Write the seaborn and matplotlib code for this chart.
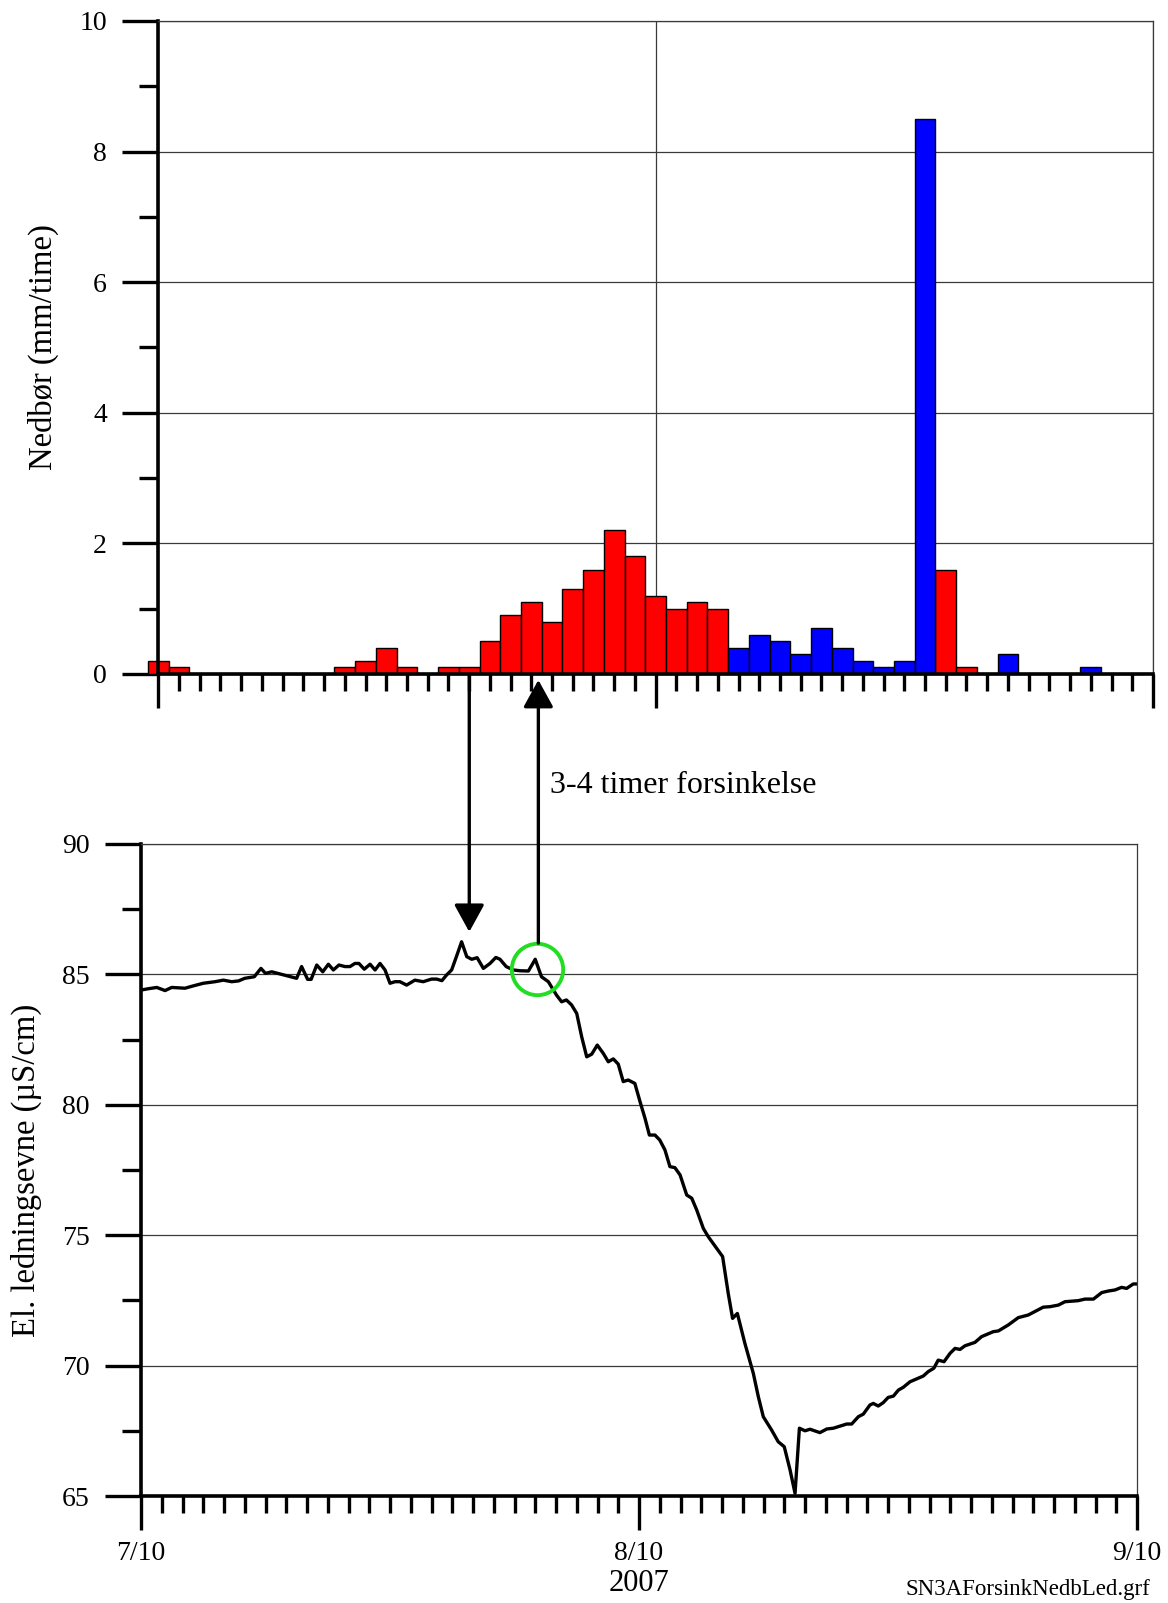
import matplotlib
matplotlib.use("Agg")
import matplotlib.pyplot as plt
import seaborn as sns
import pandas as pd
from matplotlib.ticker import MultipleLocator, FixedLocator

# ---------------- data ----------------
# Hourly precipitation (hour 0 = 7/10 00:00)
rain_hour = list(range(0, 48))
rain_mm = [0.2, 0.1, 0, 0, 0, 0, 0, 0, 0,
           0.1, 0.2, 0.4, 0.1, 0, 0.1, 0.1,
           0.5, 0.9, 1.1, 0.8, 1.3, 1.6, 2.2, 1.8, 1.2, 1.0, 1.1, 1.0,
           0.4, 0.6, 0.5, 0.3, 0.7, 0.4, 0.2, 0.1, 0.2, 8.5,
           1.6, 0.1, 0, 0.3, 0, 0, 0, 0.1, 0, 0]
rain_group = (["red"] * 28 + ["blue"] * 10 + ["red"] * 3 + ["blue"] * 7)

# Electrical conductivity (hours since 7/10 00:00, µS/cm)
cond_hour = [0.0, 0.35, 0.76, 1.16, 1.48, 2.12, 2.52, 3.0, 3.57, 3.97, 4.37, 4.7,
             5.0, 5.46, 5.78, 6.0, 6.3, 7.5, 7.74, 8.03, 8.2, 8.47, 8.76, 9.03,
             9.27, 9.54, 9.83, 10.07, 10.31, 10.5, 10.76, 11.04, 11.28, 11.52,
             11.76, 12.0, 12.24, 12.48, 12.8, 13.2, 13.6, 14.0, 14.25, 14.5,
             14.73, 14.97, 15.2, 15.45, 15.7, 15.94, 16.2, 16.5, 16.82, 17.1,
             17.3, 17.6, 17.94, 18.27, 18.67, 19.0, 19.3, 19.63, 20.03, 20.27,
             20.5, 20.75, 21.0, 21.24, 21.48, 21.72, 21.99, 22.28, 22.52, 22.76,
             23.0, 23.24, 23.48, 23.8, 24.05, 24.29, 24.5, 24.77, 25.0, 25.25,
             25.49, 25.73, 25.98, 26.3, 26.54, 26.78, 27.1, 27.34, 27.74, 28.03,
             28.3, 28.51, 28.74, 29.1, 29.51, 29.75, 29.99, 30.39, 30.71, 31.0,
             31.28, 31.52, 31.73, 32.0, 32.24, 32.72, 33.05, 33.37, 34.01, 34.25,
             34.57, 34.81, 35.13, 35.29, 35.53, 35.77, 36.01, 36.26, 36.5, 36.74,
             37.06, 37.38, 37.7, 37.94, 38.21, 38.42, 38.7, 38.99, 39.23, 39.47,
             39.71, 40.19, 40.51, 41.07, 41.32, 41.8, 42.28, 42.76, 43.48, 43.81,
             44.21, 44.53, 45.17, 45.49, 45.9, 46.3, 46.62, 46.94, 47.26, 47.5,
             47.82, 48.0]
cond_val = [84.40, 84.45, 84.50, 84.38, 84.50, 84.47, 84.56, 84.66, 84.72, 84.78,
            84.72, 84.75, 84.85, 84.91, 85.23, 85.04, 85.10, 84.85, 85.30, 84.81,
            84.81, 85.36, 85.10, 85.39, 85.17, 85.36, 85.30, 85.30, 85.42, 85.42,
            85.20, 85.39, 85.17, 85.42, 85.17, 84.66, 84.72, 84.72, 84.59, 84.78,
            84.72, 84.82, 84.82, 84.76, 84.98, 85.17, 85.68, 86.25, 85.68, 85.58,
            85.64, 85.23, 85.42, 85.65, 85.58, 85.30, 85.17, 85.14, 85.13, 85.58,
            84.91, 84.72, 84.20, 83.95, 84.02, 83.83, 83.50, 82.60, 81.84, 81.94,
            82.29, 81.97, 81.65, 81.76, 81.56, 80.89, 80.95, 80.82, 80.12, 79.48,
            78.84, 78.84, 78.65, 78.27, 77.63, 77.59, 77.31, 76.54, 76.42, 75.97,
            75.26, 74.94, 74.50, 74.18, 72.77, 71.81, 72.00, 70.86, 69.70, 68.81,
            68.04, 67.53, 67.08, 66.89, 66.00, 65.10, 67.60, 67.50, 67.56, 67.43,
            67.57, 67.60, 67.76, 67.76, 68.04, 68.14, 68.49, 68.55, 68.45, 68.58,
            68.78, 68.83, 69.06, 69.17, 69.38, 69.49, 69.60, 69.77, 69.90, 70.21,
            70.15, 70.47, 70.66, 70.62, 70.76, 70.89, 71.11, 71.30, 71.33, 71.56,
            71.84, 71.94, 72.24, 72.26, 72.32, 72.45, 72.49, 72.55, 72.55, 72.80,
            72.86, 72.90, 73.00, 72.96, 73.13, 73.13]

day_ticks = [0, 24, 48]
day_labels = ["7/10", "8/10", "9/10"]
year_label = "2007"
rain_ylabel = "Nedbør (mm/time)"
cond_ylabel = "El. ledningsevne (µS/cm)"
delay_text = "3-4 timer forsinkelse"
file_text = "SN3AForsinkNedbLed.grf"

# ---------------- style ----------------
sns.set_theme(style="ticks")
plt.rcParams["font.family"] = ["Liberation Serif", "DejaVu Serif"]
plt.rcParams["axes.edgecolor"] = "black"
plt.rcParams["xtick.color"] = "black"
plt.rcParams["ytick.color"] = "black"
plt.rcParams["text.color"] = "black"
plt.rcParams["axes.labelcolor"] = "black"

W, H = 1168, 1603
fig = plt.figure(figsize=(W / 100, H / 100), dpi=100)
fig.patch.set_facecolor("white")

def frac(l, r, t, b):
    return [l / W, 1 - b / H, (r - l) / W, (b - t) / H]

ax1 = fig.add_axes(frac(158.3, 1153, 21, 674))
ax2 = fig.add_axes(frac(141, 1137, 844, 1496))

GRID = "#3a3a3a"
for ax in (ax1, ax2):
    ax.set_facecolor("white")
    ax.set_axisbelow(True)
    for s in ("left", "bottom"):
        ax.spines[s].set_linewidth(2.6)
        ax.spines[s].set_color("black")
    for s in ("top", "right"):
        ax.spines[s].set_linewidth(0.9)
        ax.spines[s].set_color(GRID)
    ax.set_xlim(0, 48)
    ax.xaxis.set_major_locator(FixedLocator(day_ticks))
    ax.xaxis.set_minor_locator(MultipleLocator(1))
    ax.tick_params(axis="x", which="major", direction="out", length=24.5, width=2.4)
    ax.tick_params(axis="x", which="minor", direction="out", length=12, width=2.4)
    ax.tick_params(axis="y", which="major", direction="out", length=26, width=2.4,
                   labelsize=20, pad=11)
    ax.tick_params(axis="y", which="minor", direction="out", length=13.5, width=2.4)
    ax.grid(axis="y", which="major", color=GRID, lw=0.9)

# ---------------- top: precipitation bars ----------------
rain_df = pd.DataFrame({"hour": rain_hour, "mm": rain_mm, "grp": rain_group})
sns.barplot(data=rain_df, x="hour", y="mm", hue="grp",
            palette={"red": "#ff0000", "blue": "#0000ff"}, saturation=1,
            native_scale=True, dodge=False, width=1.0, errorbar=None,
            edgecolor="black", linewidth=1.0, legend=False, ax=ax1)
for p in ax1.patches:
    p.set_clip_on(False)
ax1.set_xlim(0, 48)
ax1.set_ylim(0, 10)
ax1.yaxis.set_major_locator(MultipleLocator(2))
ax1.yaxis.set_minor_locator(MultipleLocator(1))
ax1.grid(axis="x", which="major", color=GRID, lw=0.9)
ax1.tick_params(axis="x", labelbottom=False)
ax1.set_xlabel("")
ax1.set_ylabel(rain_ylabel, fontsize=23.5, va="center")
ax1.yaxis.set_label_coords(-0.116, 0.5)

# ---------------- bottom: conductivity line ----------------
cond_df = pd.DataFrame({"hour": cond_hour, "cond": cond_val})
sns.lineplot(data=cond_df, x="hour", y="cond", color="black", lw=2.4,
             estimator=None, sort=False, ax=ax2)
ax2.set_xlim(0, 48)
ax2.set_ylim(65, 90)
ax2.yaxis.set_major_locator(MultipleLocator(5))
ax2.yaxis.set_minor_locator(MultipleLocator(2.5))
ax2.set_xticks(day_ticks)
ax2.set_xticklabels(day_labels)
ax2.tick_params(axis="x", which="major", labelsize=20, pad=8)
ax2.set_xlabel(year_label, fontsize=22, labelpad=2)
ax2.set_ylabel(cond_ylabel, fontsize=23.5, va="center")
ax2.yaxis.set_label_coords(-0.1155, 0.5)

# ---------------- annotations ----------------
arrow_kw = dict(arrowstyle="-|>,head_length=0.4,head_width=0.22", lw=2.4,
                color="black", mutation_scale=42, shrinkA=0, shrinkB=0)
ax2.annotate("", xy=(15.82, 86.63), xytext=(15.82, 96.48),
             arrowprops=arrow_kw, annotation_clip=False)
ax2.annotate("", xy=(19.15, 96.29), xytext=(19.15, 86.2),
             arrowprops=arrow_kw, annotation_clip=False)
ax2.plot([19.09], [85.22], marker="o", ms=37, mfc="none", mec="#22dd22",
         mew=2.8, clip_on=False)
ax2.text(19.71, 91.96, delay_text, fontsize=23, ha="left", va="baseline",
         clip_on=False)
fig.text(1150 / W, 1 - 1589 / H, file_text, fontsize=16.5, ha="right", va="center")

fig.savefig("out.png", dpi=100, facecolor="white")
